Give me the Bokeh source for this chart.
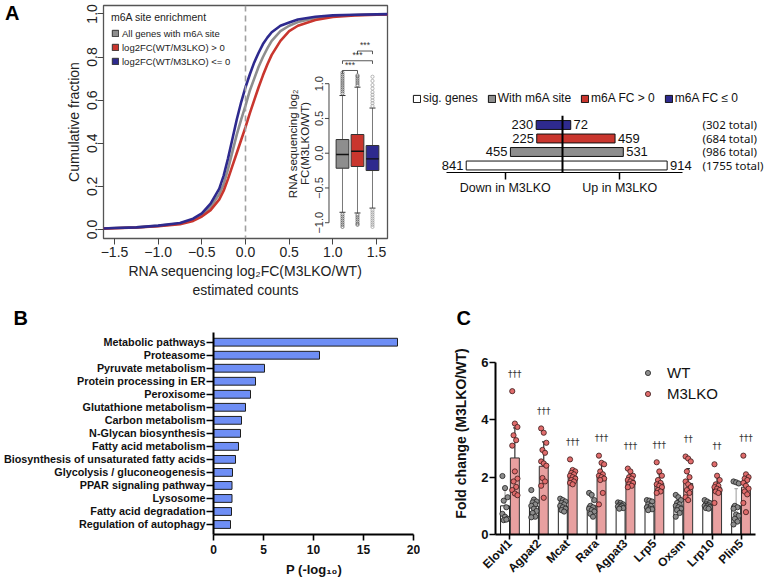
import math
from bokeh.plotting import figure
from bokeh.models import Range1d, FixedTicker, Legend, LegendItem, Span, Title, LinearAxis
from bokeh.layouts import column, row
from bokeh.embed import file_html
from bokeh.resources import INLINE
from bokeh.core.properties import value

FONT = "Liberation Sans"

# ---------------- Panel A: CDF ----------------
cdf_x = [-1.63, -1.5, -1.25, -1.0, -0.75, -0.6, -0.5, -0.4, -0.3, -0.25, -0.2, -0.15, -0.1, -0.05,
         0.0, 0.05, 0.1, 0.15, 0.2, 0.25, 0.3, 0.4, 0.5, 0.6, 0.8, 1.0, 1.25, 1.5, 1.63]
cdf_all = [0.005, 0.007, 0.010, 0.017, 0.028, 0.045, 0.068, 0.105, 0.165, 0.21, 0.28, 0.36, 0.44, 0.51,
           0.575, 0.645, 0.70, 0.755, 0.80, 0.84, 0.875, 0.92, 0.945, 0.962, 0.981, 0.99, 0.995, 0.997, 0.998]
cdf_up = [0.004, 0.006, 0.009, 0.015, 0.025, 0.040, 0.060, 0.090, 0.140, 0.18, 0.235, 0.295, 0.355, 0.415,
          0.475, 0.54, 0.60, 0.66, 0.715, 0.765, 0.81, 0.875, 0.92, 0.945, 0.972, 0.986, 0.993, 0.996, 0.998]
cdf_down = [0.005, 0.007, 0.010, 0.018, 0.030, 0.050, 0.075, 0.120, 0.190, 0.25, 0.33, 0.42, 0.51, 0.59,
            0.66, 0.72, 0.775, 0.82, 0.86, 0.89, 0.915, 0.945, 0.96, 0.974, 0.987, 0.993, 0.996, 0.998, 0.999]

box_groups = ["All genes with m6A site", "log2FC(WT/M3LKO) > 0", "log2FC(WT/M3LKO) <= 0"]
box_colors = ["#8E8E8E", "#C9362E", "#2E2A8E"]
box_q1 = [-0.216, -0.191, -0.249]
box_med = [-0.019, 0.029, -0.081]
box_q3 = [0.197, 0.269, 0.111]
box_wlo = [-0.85, -0.86, -0.79]
box_whi = [0.83, 0.95, 0.65]
box_out_hi = [[0.86, 0.89, 0.92, 0.95, 0.98, 1.01, 1.04, 1.07, 1.10, 1.13, 1.16],
              [0.98, 1.01, 1.04, 1.07, 1.10, 1.12],
              [0.68, 0.72, 0.76, 0.80, 0.84, 0.88, 0.93, 0.98, 1.04, 1.10]]
box_out_lo = [[-0.88, -0.91, -0.94, -0.97, -1.00, -1.03, -1.06],
              [-0.89, -0.92, -0.95, -0.98, -1.01, -1.03],
              [-0.82, -0.85, -0.88, -0.91, -0.94, -0.97, -1.00, -1.03, -1.06]]
inset_ticks = [-1.0, -0.5, 0.0, 0.5, 1.0]
sig_pairs = [(1, 2), (1, 3), (2, 3)]
sig_text = ["***", "***", "***"]

# ---------------- Panel A right: significant genes ----------------
sig_groups = ["sig. genes", "With m6A site", "m6A FC > 0", "m6A FC \u2264 0"]
sig_down = [841, 455, 225, 230]
sig_up = [914, 531, 459, 72]
sig_colors = ["white", "#8E8E8E", "#C9362E", "#2E2A8E"]

# ---------------- Panel B: KEGG ----------------
kegg_terms = ["Metabolic pathways", "Proteasome", "Pyruvate metabolism", "Protein processing in ER",
              "Peroxisome", "Glutathione metabolism", "Carbon metabolism", "N-Glycan biosynthesis",
              "Fatty acid metabolism", "Biosynthesis of unsaturated fatty acids",
              "Glycolysis / gluconeogenesis", "PPAR signaling pathway", "Lysosome",
              "Fatty acid degradation", "Regulation of autophagy"]
kegg_p = [18.4, 10.6, 5.1, 4.2, 3.7, 3.2, 2.8, 2.7, 2.5, 2.2, 1.9, 1.85, 1.85, 1.8, 1.7]

# ---------------- Panel C: qPCR ----------------
genes = ["Elovl1", "Agpat2", "Mcat", "Rara", "Agpat3", "Lrp5", "Oxsm", "Lrp10", "Plin5"]
wt_mean = [1.0, 0.99, 1.0, 1.0, 1.0, 1.0, 1.0, 1.0, 1.0]
wt_sd = [0.55, 0.30, 0.13, 0.27, 0.08, 0.13, 0.22, 0.10, 0.60]
ko_mean = [2.67, 2.38, 2.02, 2.0, 1.88, 1.78, 1.78, 1.63, 1.65]
ko_sd = [1.05, 0.85, 0.26, 0.52, 0.2, 0.33, 0.52, 0.42, 0.45]
sig_marks = ["\u2020\u2020\u2020"] * 6 + ["\u2020\u2020", "\u2020\u2020", "\u2020\u2020\u2020"]
wt_points = [
    [2.04, 1.62, 1.30, 1.18, 0.95, 0.72, 0.62, 0.55, 0.50, 0.52],
    [1.55, 1.22, 1.15, 1.12, 1.05, 1.0, 0.9, 0.82, 0.75, 0.62, 0.6],
    [1.25, 1.2, 1.15, 1.1, 1.05, 1.0, 0.95, 0.9, 0.85, 0.8],
    [1.45, 1.38, 1.2, 1.0, 0.95, 0.9, 0.85, 0.8, 0.72, 0.62],
    [1.12, 1.1, 1.05, 1.02, 1.0, 0.98, 0.95, 0.92, 0.9],
    [1.2, 1.18, 1.15, 1.05, 1.0, 0.95, 0.9, 0.88, 0.85],
    [1.38, 1.3, 1.2, 1.1, 1.05, 1.0, 0.95, 0.9, 0.85, 0.75, 0.62],
    [1.2, 1.15, 1.1, 1.05, 1.02, 1.0, 0.98, 0.95, 0.92, 0.9],
    [1.85, 1.82, 1.78, 1.0, 0.95, 0.9, 0.7, 0.65, 0.55, 0.45, 0.35],
]
ko_points = [
    [5.0, 3.87, 3.75, 3.46, 3.29, 3.1, 2.2, 1.95, 1.85, 1.66, 1.55, 1.43, 1.37],
    [3.7, 3.55, 3.2, 2.95, 2.85, 2.55, 2.48, 2.4, 1.97, 1.85, 1.7, 1.28],
    [2.62, 2.25, 2.2, 2.15, 2.1, 2.05, 2.0, 1.95, 1.9, 1.85, 1.8, 1.75],
    [2.75, 2.5, 2.45, 2.2, 2.1, 2.05, 2.0, 1.95, 1.9, 1.45, 1.05],
    [2.3, 2.2, 2.05, 2.0, 1.95, 1.9, 1.85, 1.8, 1.75, 1.7, 1.65],
    [2.52, 2.2, 2.05, 1.9, 1.8, 1.75, 1.7, 1.65, 1.55, 1.5, 1.45],
    [2.72, 2.65, 2.55, 2.2, 2.0, 1.85, 1.75, 1.65, 1.55, 1.45, 1.3, 1.2],
    [2.45, 2.05, 1.9, 1.75, 1.7, 1.65, 1.6, 1.55, 1.5, 1.45, 1.1],
    [2.75, 2.1, 2.0, 1.95, 1.9, 1.8, 1.7, 1.6, 1.5, 1.4, 1.1, 0.78],
]


def base_fig(**kw):
    p = figure(output_backend="svg", toolbar_location=None, **kw)
    p.grid.visible = False
    p.background_fill_color = "white"
    p.border_fill_color = "white"
    return p


def fmt1(v):
    return ("%.1f" % v).replace("-", "\u2212")


def bare_legend(leg):
    leg.padding = 0
    leg.margin = 0
    leg.border_line_color = None
    leg.background_fill_alpha = 0


def panel_letter(p, letter, offset):
    p.add_layout(Title(text=letter, align="left", offset=offset, standoff=8, text_font=FONT,
                       text_font_size="20px", text_font_style="bold", text_color="black"), "above")


# Row 1 shares frame top/bottom (Bokeh aligns frames in a row)
R1_TOP, R1_BOT = 5, 62

# =============== Panel A ===============
pA = base_fig(width=400, height=300, x_range=Range1d(-1.626, 1.626), y_range=Range1d(-0.0417, 1.039),
              min_border_left=103, min_border_right=13, min_border_top=R1_TOP, min_border_bottom=R1_BOT)
pA.outline_line_color = "#555555"
pA.outline_line_width = 1.3
pA.extra_x_ranges = {"ix": Range1d(-14.93, 4.0)}
pA.extra_y_ranges = {"iy": Range1d(-1.227, 2.125)}

xt = [-1.5, -1.0, -0.5, 0.0, 0.5, 1.0, 1.5]
yt = [0.0, 0.2, 0.4, 0.6, 0.8, 1.0]
for ax, ticks in ((pA.xaxis[0], xt), (pA.yaxis[0], yt)):
    ax.ticker = FixedTicker(ticks=ticks)
    ax.major_label_overrides = {t: fmt1(t) for t in ticks}
    ax.axis_line_color = None
    ax.major_tick_out = 6
    ax.major_tick_in = 0
    ax.minor_tick_out = 0
    ax.minor_tick_in = 0
    ax.major_tick_line_color = "#444444"
    ax.major_label_text_font = FONT
    ax.major_label_text_font_size = "14px"
    ax.major_label_text_color = "#222222"
    ax.axis_label_text_font = FONT
    ax.axis_label_text_font_style = "normal"
    ax.axis_label_text_font_size = "14px"
    ax.axis_label_text_color = "#222222"
pA.xaxis[0].axis_label = "RNA sequencing log\u2082FC(M3LKO/WT)\nestimated counts"
pA.xaxis[0].major_label_standoff = 2
pA.xaxis[0].axis_label_standoff = 3
pA.yaxis[0].axis_label = "Cumulative fraction"
pA.yaxis[0].major_label_orientation = "vertical"
pA.yaxis[0].major_label_standoff = 0
pA.yaxis[0].axis_label_standoff = 3

# panel letter "A" as the only (horizontal) label of an outer, otherwise invisible left axis
letter_tick = 1.02
letter_ax = LinearAxis(ticker=FixedTicker(ticks=[letter_tick]), major_label_overrides={letter_tick: "A"},
                       axis_line_color=None, major_tick_line_color=None, minor_tick_line_color=None,
                       major_tick_out=0, major_tick_in=0, minor_tick_out=0, minor_tick_in=0,
                       major_label_orientation="horizontal", major_label_standoff=43,
                       major_label_text_font=FONT, major_label_text_font_size="20px",
                       major_label_text_font_style="bold", major_label_text_color="black")
pA.add_layout(letter_ax, "left")

pA.add_layout(Span(location=0, dimension="height", line_color="#A0A0A0", line_width=1.6, line_dash="6 4"))

pA.line(cdf_x, cdf_all, line_color=box_colors[0], line_width=2.6)
pA.line(cdf_x, cdf_up, line_color=box_colors[1], line_width=2.6)
pA.line(cdf_x, cdf_down, line_color=box_colors[2], line_width=2.6)

# inset boxplot
IR = dict(x_range_name="ix", y_range_name="iy")
box_renderers = []
bw = 0.85
for i in range(3):
    xc = i + 1
    pA.segment(x0=[xc, xc], y0=[box_q3[i], box_q1[i]], x1=[xc, xc], y1=[box_whi[i], box_wlo[i]],
               line_color="#555555", line_width=0.8, **IR)
    pA.segment(x0=[xc - 0.2, xc - 0.2], y0=[box_whi[i], box_wlo[i]], x1=[xc + 0.2, xc + 0.2],
               y1=[box_whi[i], box_wlo[i]], line_color="#333333", line_width=1.0, **IR)
    outs = box_out_hi[i] + box_out_lo[i]
    pA.scatter(x=[xc] * len(outs), y=outs, size=3.2, fill_color=None,
               line_color="#9A9A9A" if i == 2 else "#555555", line_width=0.7, **IR)
    r = pA.vbar(x=[xc], top=[box_q3[i]], bottom=[box_q1[i]], width=bw, fill_color=box_colors[i],
                line_color="#333333", line_width=1.0, **IR)
    box_renderers.append(r)
    pA.segment(x0=[xc - bw / 2], y0=[box_med[i]], x1=[xc + bw / 2], y1=[box_med[i]],
               line_color="#111111", line_width=1.4, **IR)

# inset axis
iax_x = 0.1
pA.segment(x0=[iax_x], y0=[inset_ticks[0]], x1=[iax_x], y1=[inset_ticks[-1]], line_color="#444444",
           line_width=1, **IR)
pA.segment(x0=[iax_x] * len(inset_ticks), y0=inset_ticks, x1=[iax_x - 0.27] * len(inset_ticks),
           y1=inset_ticks, line_color="#444444", line_width=1, **IR)
pA.text(x=[iax_x - 0.65] * len(inset_ticks), y=inset_ticks, text=[fmt1(t) for t in inset_ticks],
        angle=math.pi / 2, text_font=value(FONT), text_font_size="11px", text_color="#333333",
        text_align="center", text_baseline="middle", **IR)
pA.text(x=[-2.3, -1.5], y=[0.14, 0.14], text=["RNA sequencing log\u2082", "FC(M3LKO/WT)"],
        angle=math.pi / 2, text_font=value(FONT), text_font_size="11.5px", text_color="#222222",
        text_align="center", text_baseline="middle", **IR)

# significance brackets
levels = [1.19, 1.33, 1.47]
bxs, bys = [], []
for (a, b), lv in zip(sig_pairs, levels):
    bxs.append([a, a, b, b])
    bys.append([lv - 0.045, lv, lv, lv - 0.045])
pA.multi_line(xs=bxs, ys=bys, line_color="#444444", line_width=0.9, **IR)
pA.text(x=[(a + b) / 2 for a, b in sig_pairs], y=[lv + 0.012 for lv in levels], text=sig_text,
        text_font=value(FONT), text_font_size="8.5px", text_color="#333333", text_align="center",
        text_baseline="bottom", **IR)

legA = Legend(items=[LegendItem(label=g, renderers=[r]) for g, r in zip(box_groups, box_renderers)],
              title="m6A site enrichment", location=(8, 170))
legA.title_text_font = FONT
legA.title_text_font_size = "10.5px"
legA.title_text_font_style = "normal"
legA.title_text_color = "#222222"
legA.title_standoff = 3
legA.label_text_font = FONT
legA.label_text_font_size = "9.5px"
legA.label_text_color = "#222222"
legA.glyph_width = 8
legA.glyph_height = 8
legA.label_height = 14
legA.label_standoff = 3
legA.spacing = 0
bare_legend(legA)
legA.padding = 2
pA.add_layout(legA)

# =============== Panel A right ===============
pA2 = base_fig(width=365, height=300, x_range=Range1d(-1415, 1773), y_range=Range1d(-4.407, 12.85),
               min_border_left=0, min_border_right=0, min_border_top=R1_TOP, min_border_bottom=R1_BOT,
               y_axis_location=None)
pA2.outline_line_color = None
n = len(sig_groups)
sig_rend = []
for i in range(n):
    r = pA2.hbar(y=[i + 1], left=[-sig_down[i]], right=[sig_up[i]], height=0.66,
                 fill_color=sig_colors[i], line_color="#111111", line_width=1)
    sig_rend.append(r)
axis_y = 0.504
pA2.segment(x0=[0], y0=[axis_y], x1=[0], y1=[n + 0.69], line_color="black", line_width=2)
ys = [i + 1 for i in range(n)]
pA2.text(x=[-d - 25 for d in sig_down], y=ys, text=[str(d) for d in sig_down], text_font=value(FONT),
         text_font_size="13px", text_align="right", text_baseline="middle", text_color="#111111")
pA2.text(x=[u + 25 for u in sig_up], y=ys, text=[str(u) for u in sig_up], text_font=value(FONT),
         text_font_size="13px", text_align="left", text_baseline="middle", text_color="#111111")
pA2.text(x=[1223] * n, y=ys, text=["(%d total)" % (d + u) for d, u in zip(sig_down, sig_up)],
         text_font=value("Noto Sans"), text_font_size="11.5px", text_align="left",
         text_baseline="middle", text_color="#111111")
ax2 = pA2.xaxis[0]
ax2.fixed_location = axis_y
ax2.ticker = FixedTicker(ticks=[-500, 500])
ax2.major_label_overrides = {-500: "Down in M3LKO", 500: "Up in M3LKO"}
ax2.bounds = (-1013, 1048)
ax2.axis_line_width = 1.2
ax2.axis_line_color = "black"
ax2.major_tick_out = 7
ax2.major_tick_in = 0
ax2.major_tick_line_width = 1.5
ax2.minor_tick_out = 0
ax2.minor_tick_in = 0
ax2.major_label_standoff = 2
ax2.major_label_text_font = FONT
ax2.major_label_text_font_size = "12.5px"
ax2.major_label_text_color = "#111111"

legA2 = Legend(items=[LegendItem(label=g, renderers=[r]) for g, r in zip(sig_groups, sig_rend)],
               orientation="horizontal", location=(12, 133))
legA2.label_text_font = FONT
legA2.label_text_font_size = "12px"
legA2.label_text_color = "#111111"
legA2.glyph_width = 9
legA2.glyph_height = 9
legA2.label_height = 14
legA2.label_standoff = 2
legA2.spacing = 9
bare_legend(legA2)
pA2.add_layout(legA2)

# Row 2 shares frame top/bottom
R2_TOP, R2_BOT = 32, 51

# =============== Panel B ===============
nk = len(kegg_terms)
pB = base_fig(width=420, height=285, x_range=Range1d(0, 20.1), y_range=Range1d(0.232, 15.745),
              min_border_left=213, min_border_right=6, min_border_top=R2_TOP, min_border_bottom=R2_BOT)
pB.outline_line_color = None
ky = [nk - i for i in range(nk)]
pB.hbar(y=ky, left=0, right=kegg_p, height=0.6, fill_color="#6E8EF5", line_color="#1E1E1E", line_width=1)
for ax in (pB.xaxis[0], pB.yaxis[0]):
    ax.axis_line_width = 2
    ax.axis_line_color = "black"
    ax.major_tick_line_width = 1.6
    ax.major_tick_in = 0
    ax.minor_tick_out = 0
    ax.minor_tick_in = 0
    ax.major_label_text_font = FONT
    ax.major_label_text_font_style = "bold"
    ax.major_label_text_color = "#111111"
    ax.axis_label_text_font = FONT
    ax.axis_label_text_font_style = "bold"
    ax.axis_label_text_color = "#111111"
pB.yaxis[0].ticker = FixedTicker(ticks=ky)
pB.yaxis[0].major_label_overrides = {y: t for y, t in zip(ky, kegg_terms)}
pB.yaxis[0].major_tick_out = 7
pB.yaxis[0].major_label_standoff = 1
pB.yaxis[0].major_label_text_font_size = "10.8px"
pB.xaxis[0].ticker = FixedTicker(ticks=[0, 5, 10, 15, 20])
pB.xaxis[0].bounds = (0, 20)
pB.xaxis[0].major_tick_out = 6
pB.xaxis[0].major_label_standoff = 4
pB.xaxis[0].major_label_text_font_size = "12px"
pB.xaxis[0].axis_label = "P (-log\u2081\u2080)"
pB.xaxis[0].axis_label_text_font_size = "13px"
pB.xaxis[0].axis_label_standoff = 5
panel_letter(pB, "B", -200)

# =============== Panel C ===============
ng = len(genes)
pC = base_fig(width=345, height=285, x_range=Range1d(0, ng), y_range=Range1d(0, 7.046),
              min_border_left=75, min_border_right=10, min_border_top=R2_TOP, min_border_bottom=R2_BOT)
pC.outline_line_color = None
gx = [i + 0.5 for i in range(ng)]
dx = 0.17
bwid = 0.31
wx = [g - dx for g in gx]
kx = [g + dx for g in gx]
pC.vbar(x=wx, top=wt_mean, bottom=0, width=bwid, fill_color="white", line_color="#222222", line_width=1)
pC.vbar(x=kx, top=ko_mean, bottom=0, width=bwid, fill_color="#E8A0A0", line_color="#333333", line_width=1)
wt_hi = [m + s for m, s in zip(wt_mean, wt_sd)]
ko_hi = [m + s for m, s in zip(ko_mean, ko_sd)]
pC.segment(x0=wx, y0=wt_mean, x1=wx, y1=wt_hi, line_color="#AAAAAA", line_width=1.2)
pC.segment(x0=[x - 0.06 for x in wx], y0=wt_hi, x1=[x + 0.06 for x in wx], y1=wt_hi,
           line_color="#AAAAAA", line_width=1.2)
pC.segment(x0=kx, y0=ko_mean, x1=kx, y1=ko_hi, line_color="#333333", line_width=1.2)
pC.segment(x0=[x - 0.06 for x in kx], y0=ko_hi, x1=[x + 0.06 for x in kx], y1=ko_hi,
           line_color="#333333", line_width=1.2)

jit = [-0.09, 0.0, 0.09, -0.045, 0.045]
wpx, wpy, kpx, kpy = [], [], [], []
for i in range(ng):
    for j, v in enumerate(wt_points[i]):
        wpx.append(wx[i] + jit[j % len(jit)])
        wpy.append(v)
    for j, v in enumerate(ko_points[i]):
        kpx.append(kx[i] + jit[j % len(jit)])
        kpy.append(v)
rW = pC.scatter(wpx, wpy, size=5.2, fill_color="#8C8C8C", line_color="#222222", line_width=0.8)
rK = pC.scatter(kpx, kpy, size=5.2, fill_color="#E06C6C", line_color="#3A1A1A", line_width=0.8)
pC.text(x=kx, y=[max(max(pts) + 0.6, 3.1) for pts in ko_points], text=sig_marks,
        text_font=value("DejaVu Sans"), text_font_size="9px", text_color="#333333",
        text_align="center", text_baseline="middle")

for ax in (pC.xaxis[0], pC.yaxis[0]):
    ax.axis_line_width = 2
    ax.axis_line_color = "black"
    ax.major_tick_line_width = 1.6
    ax.major_tick_in = 0
    ax.minor_tick_out = 0
    ax.minor_tick_in = 0
    ax.major_label_text_font = FONT
    ax.major_label_text_font_style = "bold"
    ax.major_label_text_color = "#111111"
    ax.axis_label_text_font = FONT
    ax.axis_label_text_font_style = "bold"
    ax.axis_label_text_color = "#111111"
pC.xaxis[0].ticker = FixedTicker(ticks=gx)
pC.xaxis[0].major_label_overrides = {x: g for x, g in zip(gx, genes)}
pC.xaxis[0].major_label_orientation = math.pi / 4
pC.xaxis[0].major_tick_out = 5
pC.xaxis[0].major_label_standoff = 2
pC.xaxis[0].major_label_text_font_size = "12px"
pC.yaxis[0].ticker = FixedTicker(ticks=[0, 2, 4, 6])
pC.yaxis[0].bounds = (0, 6)
pC.yaxis[0].major_tick_out = 6
pC.yaxis[0].major_label_standoff = 1
pC.yaxis[0].major_label_text_font_size = "13px"
pC.yaxis[0].axis_label = "Fold change (M3LKO/WT)"
pC.yaxis[0].axis_label_text_font_size = "14px"
pC.yaxis[0].axis_label_standoff = 9

legC = Legend(items=[LegendItem(label="WT", renderers=[rW]), LegendItem(label="M3LKO", renderers=[rK])],
              location=(146, 130))
legC.label_text_font = FONT
legC.label_text_font_size = "15px"
legC.label_text_color = "#111111"
legC.glyph_width = 13
legC.glyph_height = 13
legC.label_height = 21
legC.label_standoff = 13
legC.spacing = 0
bare_legend(legC)
pC.add_layout(legC)
panel_letter(pC, "C", -39)

layout = column(row(pA, pA2), row(pB, pC))
open("out.html", "w").write(file_html(layout, INLINE))
